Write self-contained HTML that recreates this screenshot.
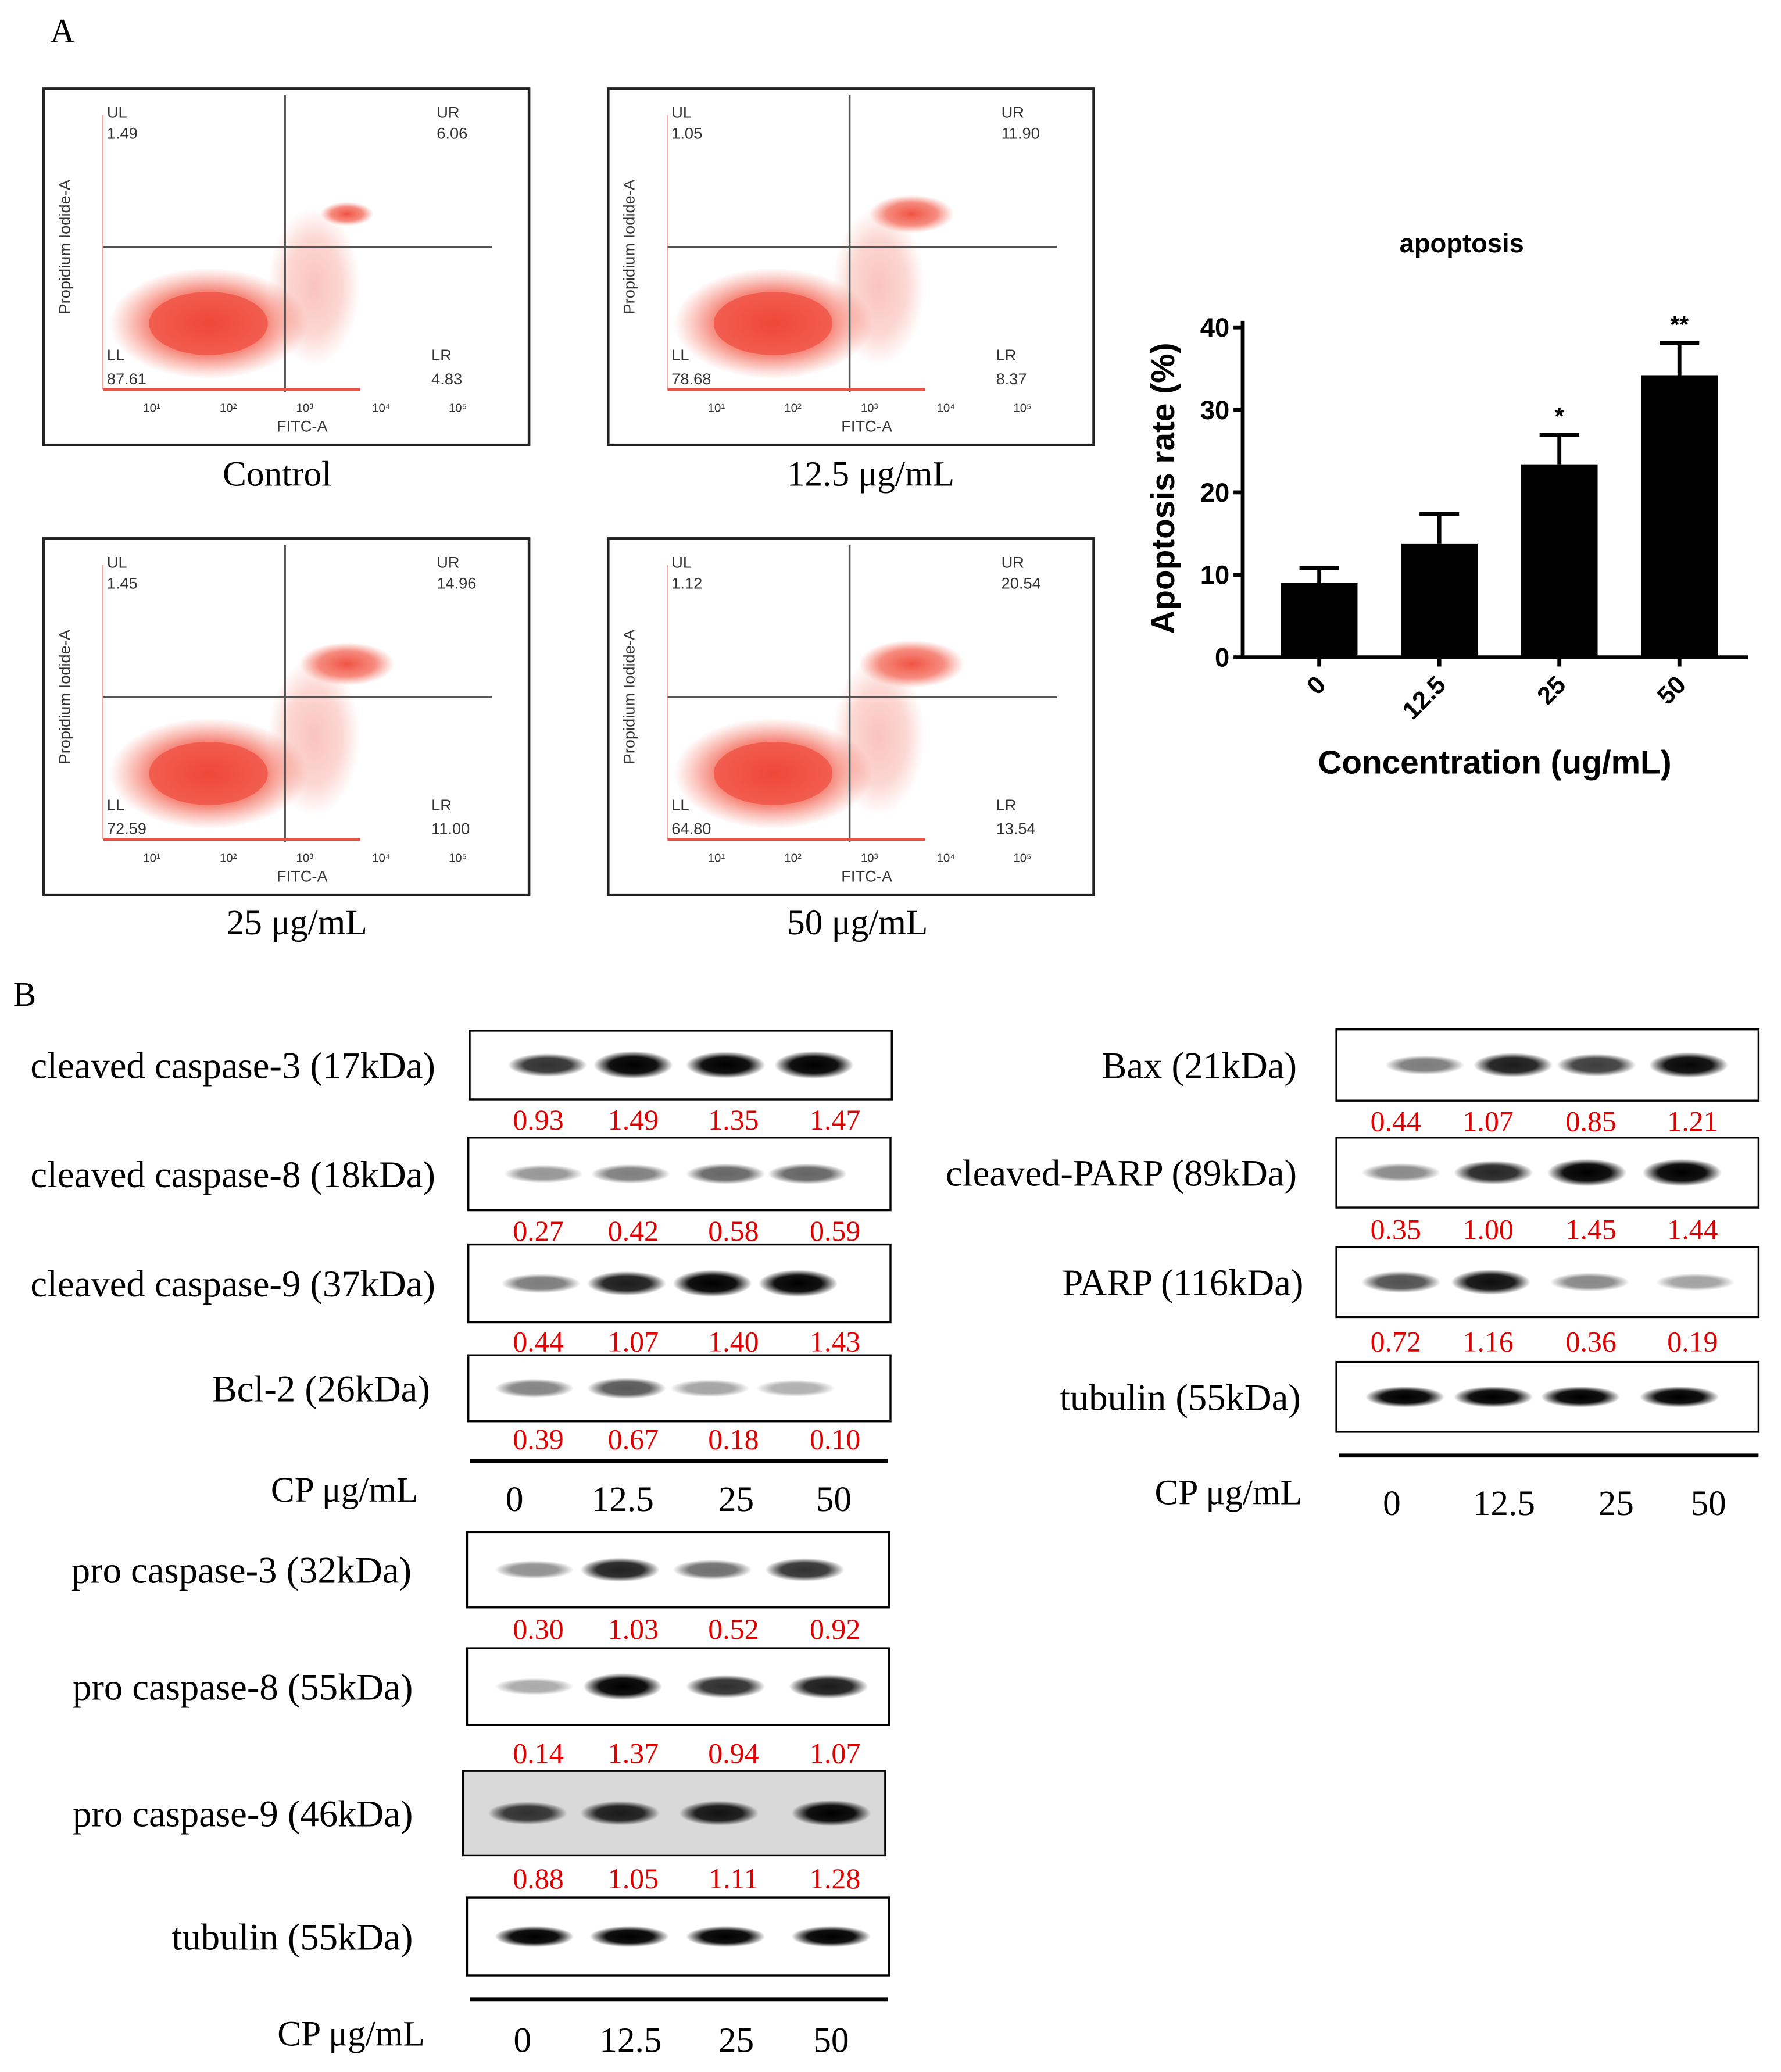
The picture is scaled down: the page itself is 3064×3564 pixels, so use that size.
<!DOCTYPE html>
<html><head><meta charset="utf-8"><style>
html,body{margin:0;padding:0;background:#fff}
svg{display:block}
.serif{font-family:"Liberation Serif",serif}
.sans{font-family:"Liberation Sans",sans-serif}
</style></head><body>
<svg id="fig" width="3064" height="3564" viewBox="0 0 1350 1570" xmlns="http://www.w3.org/2000/svg">
<defs>
<radialGradient id="blob"><stop offset="0" stop-color="#f04a3a" stop-opacity="0.95"/><stop offset="0.6" stop-color="#f25a48" stop-opacity="0.7"/><stop offset="1" stop-color="#f46a58" stop-opacity="0"/></radialGradient>
<radialGradient id="band"><stop offset="0" stop-color="#000"/><stop offset="0.6" stop-color="#111"/><stop offset="1" stop-color="#000" stop-opacity="0"/></radialGradient>
</defs>
<text x="38" y="32" class="serif" font-size="26">A</text>
<text x="10" y="762" class="serif" font-size="26">B</text>
<g id="flow"></g>
<g id="bar"></g>
<g id="blots"></g>
</svg>
<script>
const NS='http://www.w3.org/2000/svg';
function mk(p,tag,attrs,txt){const e=document.createElementNS(NS,tag);for(const k in attrs)e.setAttribute(k,attrs[k]);if(txt!==undefined)e.textContent=txt;p.appendChild(e);return e;}

// ---- bar chart data ----
const barCats=['0','12.5','25','50'];
const barVals=[9.0,13.8,23.4,34.2];
const barErrTop=[10.8,17.4,27.0,38.1];
const barSig=['','','*','**'];
const yTicks=[0,10,20,30,40];

const bar=document.getElementById('bar');
const x0=942,x1=1325,yb=498,yt=248;
const ys=v=>yb-(v/40)*(yb-yt);
const xs=i=>970+i*91+30;
mk(bar,'text',{x:1108,y:191,'text-anchor':'middle','font-size':20,'font-weight':'bold',class:'sans',},'apoptosis');
mk(bar,'line',{x1:x0,y1:yt-5,x2:x0,y2:yb,stroke:'#000','stroke-width':3,});
mk(bar,'line',{x1:x0,y1:yb,x2:x1,y2:yb,stroke:'#000','stroke-width':3,});
yTicks.forEach(t=>{const y=ys(t);
 const l=mk(bar,'line',{x1:x0-7,y1:y,x2:x0,y2:y,stroke:'#000','stroke-width':3});
 
 
 const tx=mk(bar,'text',{x:x0-10,y:y+7,'text-anchor':'end','font-size':20,'font-weight':'bold',class:'sans'},String(t));
 
 
});
mk(bar,'text',{x:890,y:370,'text-anchor':'middle','font-size':25,'font-weight':'bold',class:'sans',transform:'rotate(-90 890 370)',},'Apoptosis rate (%)');
mk(bar,'text',{x:1133,y:586,'text-anchor':'middle','font-size':25,'font-weight':'bold',class:'sans',},'Concentration (ug/mL)');
barCats.forEach((c,i)=>{const cx=xs(i);
 const r=mk(bar,'rect',{x:cx-29,y:ys(barVals[i]),width:58,height:yb-ys(barVals[i]),fill:'#000'});
 
 
 const e=mk(bar,'path',{d:`M${cx},${ys(barVals[i])}V${ys(barErrTop[i])}M${cx-15},${ys(barErrTop[i])}H${cx+15}`,stroke:'#000','stroke-width':3,fill:'none'});
 
 
 const t=mk(bar,'line',{x1:cx,y1:yb,x2:cx,y2:yb+7,stroke:'#000','stroke-width':3});
 
 
 const lb=mk(bar,'text',{x:cx+6,y:yb+22,'text-anchor':'end','font-size':19,'font-weight':'bold',class:'sans',transform:`rotate(-45 ${cx+6} ${yb+22})`},c);
 
 
 if(barSig[i]){const s=mk(bar,'text',{x:cx,y:ys(barErrTop[i])-8,'text-anchor':'middle','font-size':18,'font-weight':'bold',class:'sans'},barSig[i]);
  
  }
});

// ---- flow plots ----
const flowNames=['control','12.5','25','50'];
const flowCaps=['Control','12.5 μg/mL','25 μg/mL','50 μg/mL'];
const flowUL=['1.49','1.05','1.45','1.12'];
const flowUR=['6.06','11.90','14.96','20.54'];
const flowLL=['87.61','78.68','72.59','64.80'];
const flowLR=['4.83','8.37','11.00','13.54'];
const flowURsize=[0.5,0.8,0.9,1.0];
const origins=[[33,67],[461,67],[33,408],[461,408]];
const capPos=[[210,368],[660,368],[225,708],[650,708]];
const flow=document.getElementById('flow');
origins.forEach(([ox,oy],i)=>{
 const g=mk(flow,'g',{transform:`translate(${ox},${oy})`});
 
 
 mk(g,'rect',{x:0,y:0,width:368,height:270,fill:'#fff',stroke:'#222','stroke-width':2});
 mk(g,'ellipse',{cx:125,cy:178,rx:75,ry:42,fill:'url(#blob)'});
 mk(g,'ellipse',{cx:125,cy:178,rx:45,ry:24,fill:'#ee4030',opacity:0.6});
 mk(g,'ellipse',{cx:230,cy:95,rx:40*flowURsize[i],ry:18*flowURsize[i],fill:'url(#blob)'});
 mk(g,'ellipse',{cx:205,cy:150,rx:35,ry:60,fill:'url(#blob)',opacity:0.35});
 mk(g,'line',{x1:183,y1:5,x2:183,y2:230,stroke:'#555','stroke-width':1.5});
 mk(g,'line',{x1:45,y1:120,x2:340,y2:120,stroke:'#555','stroke-width':1.5});
 mk(g,'line',{x1:45,y1:228,x2:240,y2:228,stroke:'#f05040','stroke-width':2});
 mk(g,'line',{x1:45,y1:20,x2:45,y2:228,stroke:'#f05040','stroke-width':1,opacity:0.5});
 const f=12;
 mk(g,'text',{x:48,y:22,'font-size':f,class:'sans',fill:'#333'},'UL');
 mk(g,'text',{x:48,y:38,'font-size':f,class:'sans',fill:'#333'},flowUL[i]);
 mk(g,'text',{x:298,y:22,'font-size':f,class:'sans',fill:'#333'},'UR');
 mk(g,'text',{x:298,y:38,'font-size':f,class:'sans',fill:'#333'},flowUR[i]);
 mk(g,'text',{x:48,y:206,'font-size':f,class:'sans',fill:'#333'},'LL');
 mk(g,'text',{x:48,y:224,'font-size':f,class:'sans',fill:'#333'},flowLL[i]);
 mk(g,'text',{x:294,y:206,'font-size':f,class:'sans',fill:'#333'},'LR');
 mk(g,'text',{x:294,y:224,'font-size':f,class:'sans',fill:'#333'},flowLR[i]);
 mk(g,'text',{x:196,y:260,'text-anchor':'middle','font-size':f,class:'sans',fill:'#333'},'FITC-A');
 mk(g,'text',{x:20,y:120,'text-anchor':'middle','font-size':f,class:'sans',fill:'#333',transform:'rotate(-90 20 120)'},'Propidium Iodide-A');
 ['10¹','10²','10³','10⁴','10⁵'].forEach((t,k)=>{mk(g,'text',{x:82+k*58,y:245,'text-anchor':'middle','font-size':9,class:'sans',fill:'#333'},t);});
 const c=mk(flow,'text',{x:capPos[i][0],y:capPos[i][1],'text-anchor':'middle','font-size':27,class:'serif'},flowCaps[i]);
 
 
});

// ---- western blots ----
const blotLabelsL=['cleaved caspase-3 (17kDa)','cleaved caspase-8 (18kDa)','cleaved caspase-9 (37kDa)','Bcl-2 (26kDa)','pro caspase-3 (32kDa)','pro caspase-8 (55kDa)','pro caspase-9 (46kDa)','tubulin (55kDa)'];
const blotValsL=[['0.93','1.49','1.35','1.47'],['0.27','0.42','0.58','0.59'],['0.44','1.07','1.40','1.43'],['0.39','0.67','0.18','0.10'],['0.30','1.03','0.52','0.92'],['0.14','1.37','0.94','1.07'],['0.88','1.05','1.11','1.28'],null];
const blotValsR=[['0.44','1.07','0.85','1.21'],['0.35','1.00','1.45','1.44'],['0.72','1.16','0.36','0.19'],null];
const blotLabelsR=['Bax (21kDa)','cleaved-PARP (89kDa)','PARP (116kDa)','tubulin (55kDa)'];
const doses=['0','12.5','25','50'];
const blots=document.getElementById('blots');
const boxesL=[[356,781,320,52,330,848],[355,862,320,55,330,932],[355,943,320,59,330,1016],[355,1027,320,50,326,1090],[354,1161,320,57,312,1234],[354,1249,320,58,313,1328],[351,1342,320,64,313,1423],[354,1438,320,59,313,null]];
const bandXL=[[415,480,550,617],[412,478,550,612],[410,475,540,605],[405,475,538,603],[405,470,540,610],[405,472,550,628],[400,470,545,630],[405,477,550,630]];
const numXL=[408,480,556,633];
const boxesR=[[1013,780,320,54,983,849],[1013,862,320,53,983,931],[1013,945,320,53,988,1016],[1013,1032,320,53,986,null]];
const bandXR=[[1080,1147,1210,1280],[1062,1132,1203,1275],[1062,1130,1205,1285],[1065,1132,1198,1273]];
const numXR=[1058,1128,1206,1283];
function drawBlot(box,label,vals,bx,nx,name){
 const [x,y,w,h,lx,ny]=box;
 const g=mk(blots,'g',{});
 
 
 mk(g,'rect',{x,y,width:w,height:h,fill:name.indexOf('pro-caspase-9')>=0?'#d8d8d8':'#fff',stroke:'#000','stroke-width':1.5});
 bx.forEach((cx,k)=>{let op=1,ry=8;
  if(vals){const v=parseFloat(vals[k]);op=Math.min(1,0.25+v*0.6);ry=6+Math.min(v,1.5)*3;}
  mk(g,'ellipse',{cx,cy:y+h/2,rx:30,ry,fill:'url(#band)',opacity:op});});
 mk(g,'text',{x:lx,y:y+h/2+10,'text-anchor':'end','font-size':28.5,class:'serif'},label);
 if(vals&&ny){vals.forEach((v,k)=>{mk(g,'text',{x:nx[k],y:ny+8,'text-anchor':'middle','font-size':22,class:'serif',fill:'#e00000'},v);});}
}
boxesL.forEach((b,i)=>drawBlot(b,blotLabelsL[i],blotValsL[i],bandXL[i],numXL,'blot-'+blotLabelsL[i].split(' (')[0].replace(/ /g,'-').toLowerCase()));
boxesR.forEach((b,i)=>drawBlot(b,blotLabelsR[i],blotValsR[i],bandXR[i],numXR,'blot-right-'+blotLabelsR[i].split(' (')[0].replace(/ /g,'-').toLowerCase()));
function doseAxis(ly,lx0,lx1,cpx,cpy,xsArr,ty,name){
 const g=mk(blots,'g',{});
 
 
 mk(g,'line',{x1:lx0,y1:ly,x2:lx1,y2:ly,stroke:'#000','stroke-width':3});
 mk(g,'text',{x:cpx,y:cpy,'text-anchor':'end','font-size':27,class:'serif'},'CP μg/mL');
 doses.forEach((d,k)=>mk(g,'text',{x:xsArr[k],y:ty,'text-anchor':'middle','font-size':27,class:'serif'},d));
}
doseAxis(1107,356,673,317,1138,[390,472,558,632],1145,'dose-axis-1');
doseAxis(1515,356,673,322,1550,[396,478,558,630],1555,'dose-axis-2');
doseAxis(1103,1015,1333,987,1140,[1055,1140,1225,1295],1148,'dose-axis-right');
</script>
</body></html>
